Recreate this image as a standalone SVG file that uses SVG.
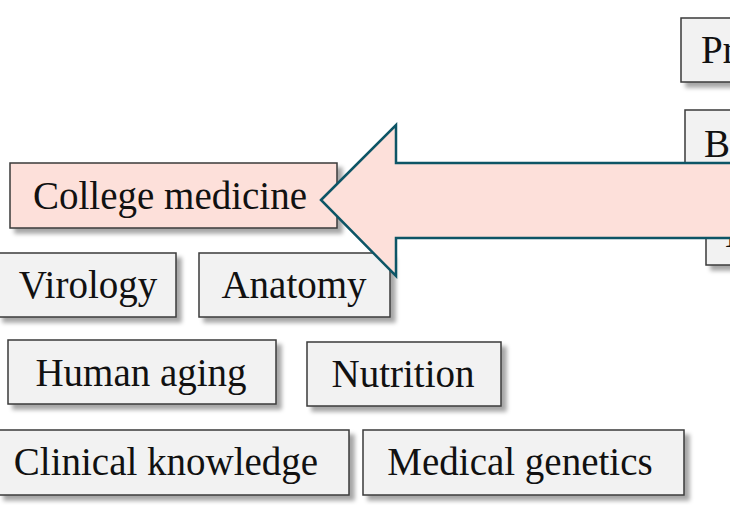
<svg xmlns="http://www.w3.org/2000/svg" width="730" height="505" viewBox="0 0 730 505">
  <defs>
    <filter id="shadow" x="-10%" y="-20%" width="130%" height="160%">
      <feDropShadow dx="5" dy="5" stdDeviation="2" flood-color="#000" flood-opacity="0.35"/>
    </filter>
    <style>
      .box { fill: #f2f2f2; stroke: #3a3a3a; stroke-width: 1.5; filter: url(#shadow); }
      .hl { fill: #fde0da; }
      .lbl { font-family: "Liberation Serif", "Times New Roman", serif; font-size: 39px; fill: #111; text-anchor: middle; }
      .lbl-start { text-anchor: start; }
      .arrow { fill: #fde0da; stroke: #0d5566; stroke-width: 2.5; stroke-linejoin: miter; }
    </style>
  </defs>
  <rect width="730" height="505" fill="#fff"/>

  <!-- right column, partly off the canvas edge -->
  <g id="professional-medicine">
    <rect class="box" x="681" y="18" width="80" height="64"/>
    <text class="lbl lbl-start" x="701" y="63">Professional medicine</text>
  </g>
  <g id="biology">
    <rect class="box" x="685" y="110" width="80" height="64"/>
    <text class="lbl lbl-start" x="704" y="157">Biology</text>
  </g>
  <g id="right-third">
    <rect class="box" x="706" y="200" width="60" height="65"/>
    <text class="lbl lbl-start" x="725" y="247">High school biology</text>
  </g>

  <!-- left cluster -->
  <g id="college-medicine">
    <rect class="box hl" x="10" y="163" width="327" height="65"/>
    <text class="lbl" x="170" y="209">College medicine</text>
  </g>
  <g id="virology">
    <rect class="box" x="-2" y="253" width="178" height="64"/>
    <text class="lbl" x="88" y="298">Virology</text>
  </g>
  <g id="anatomy">
    <rect class="box" x="199" y="253" width="191" height="64"/>
    <text class="lbl" x="294" y="298">Anatomy</text>
  </g>
  <g id="human-aging">
    <rect class="box" x="8" y="340" width="268" height="64"/>
    <text class="lbl" x="141" y="386">Human aging</text>
  </g>
  <g id="nutrition">
    <rect class="box" x="307" y="342" width="194" height="64"/>
    <text class="lbl" x="403" y="387">Nutrition</text>
  </g>
  <g id="clinical-knowledge">
    <rect class="box" x="-1" y="430" width="350" height="65"/>
    <text class="lbl" x="166" y="475">Clinical knowledge</text>
  </g>
  <g id="medical-genetics">
    <rect class="box" x="363" y="430" width="321" height="65"/>
    <text class="lbl" x="520" y="475">Medical genetics</text>
  </g>

  <!-- block arrow pointing at the highlighted node -->
  <g id="connectors">
    <polygon class="arrow" points="321,200 396,125 396,163 745,163 745,238 396,238 396,276"/>
  </g>
</svg>
